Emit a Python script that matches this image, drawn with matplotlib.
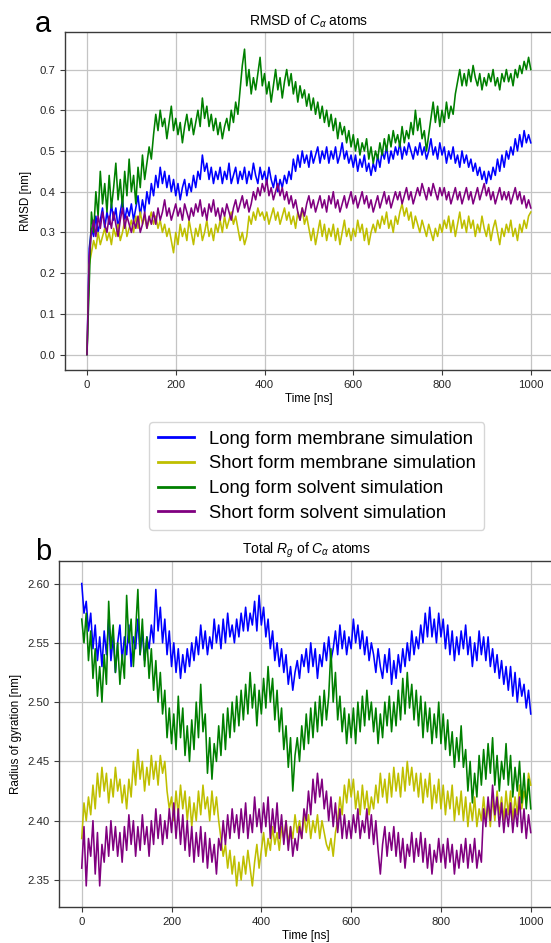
import numpy as np
import matplotlib
matplotlib.use("Agg")
import matplotlib.pyplot as plt

plt.rcParams["font.family"] = ["Liberation Sans", "DejaVu Sans"]
plt.rcParams["mathtext.fontset"] = "custom"
plt.rcParams["mathtext.rm"] = "Liberation Sans"
plt.rcParams["mathtext.it"] = "Liberation Sans:italic"

# Simulation time axis: one sample every 5 ns from 0 to 1000 ns
time_ns = np.arange(0, 1001, 5)

series_labels = [
    "Long form membrane simulation",
    "Short form membrane simulation",
    "Long form solvent simulation",
    "Short form solvent simulation",
]
series_colors = ["#0000ff", "#bfbf00", "#008000", "#800080"]

# ---- C-alpha RMSD [nm] ----
rmsd_long_membrane = [
    0.00, 0.26, 0.31, 0.29, 0.34, 0.30, 0.33, 0.36, 0.31, 0.35,
    0.32, 0.37, 0.33, 0.36, 0.31, 0.35, 0.38, 0.33, 0.36, 0.34,
    0.37, 0.33, 0.36, 0.39, 0.34, 0.38, 0.35, 0.40, 0.37, 0.42,
    0.39, 0.44, 0.41, 0.46, 0.42, 0.45, 0.41, 0.44, 0.40, 0.43,
    0.39, 0.42, 0.38, 0.41, 0.43, 0.39, 0.42, 0.40, 0.44, 0.41,
    0.45, 0.43, 0.49, 0.45, 0.47, 0.43, 0.46, 0.42, 0.45, 0.43,
    0.46, 0.42, 0.45, 0.43, 0.47, 0.42, 0.44, 0.46, 0.42, 0.45,
    0.43, 0.46, 0.42, 0.45, 0.43, 0.47, 0.44, 0.42, 0.46, 0.43,
    0.45, 0.42, 0.46, 0.43, 0.41, 0.44, 0.40, 0.43, 0.41, 0.44,
    0.42, 0.45, 0.43, 0.48, 0.45, 0.49, 0.46, 0.50, 0.47, 0.49,
    0.46, 0.50, 0.47, 0.49, 0.51, 0.47, 0.50, 0.48, 0.51, 0.47,
    0.50, 0.48, 0.51, 0.47, 0.49, 0.52, 0.48, 0.50, 0.47, 0.49,
    0.46, 0.49, 0.45, 0.48, 0.46, 0.49, 0.45, 0.47, 0.44, 0.47,
    0.45, 0.49, 0.46, 0.50, 0.48, 0.51, 0.47, 0.50, 0.48, 0.51,
    0.49, 0.52, 0.48, 0.51, 0.49, 0.52, 0.50, 0.48, 0.51, 0.49,
    0.52, 0.49, 0.51, 0.48, 0.50, 0.53, 0.49, 0.51, 0.48, 0.52,
    0.49, 0.51, 0.47, 0.50, 0.48, 0.51, 0.47, 0.49, 0.46, 0.50,
    0.47, 0.49, 0.46, 0.48, 0.45, 0.47, 0.44, 0.46, 0.43, 0.45,
    0.42, 0.45, 0.43, 0.46, 0.44, 0.48, 0.45, 0.49, 0.46, 0.50,
    0.48, 0.51, 0.49, 0.53, 0.50, 0.54, 0.51, 0.55, 0.52, 0.54,
    0.52,
]
rmsd_short_membrane = [
    0.00, 0.22, 0.25, 0.28, 0.26, 0.30, 0.27, 0.29, 0.31, 0.28,
    0.30, 0.27, 0.31, 0.29, 0.32, 0.28, 0.30, 0.33, 0.29, 0.31,
    0.33, 0.30, 0.34, 0.31, 0.35, 0.32, 0.34, 0.31, 0.33, 0.35,
    0.32, 0.34, 0.31, 0.33, 0.30, 0.32, 0.29, 0.31, 0.28, 0.25,
    0.30, 0.27, 0.32, 0.29, 0.31, 0.28, 0.33, 0.30, 0.27, 0.31,
    0.29, 0.32, 0.28, 0.30, 0.33, 0.29, 0.31, 0.28, 0.32, 0.30,
    0.33, 0.30, 0.34, 0.31, 0.33, 0.35, 0.32, 0.34, 0.31, 0.28,
    0.30, 0.27, 0.29, 0.34, 0.32, 0.35, 0.33, 0.36, 0.34, 0.35,
    0.33, 0.35, 0.32, 0.34, 0.36, 0.33, 0.35, 0.32, 0.34, 0.36,
    0.33, 0.35, 0.32, 0.34, 0.31, 0.35, 0.33, 0.36, 0.32, 0.34,
    0.31, 0.28, 0.31, 0.27, 0.30, 0.33, 0.29, 0.32, 0.28, 0.31,
    0.29, 0.32, 0.28, 0.31, 0.27, 0.30, 0.33, 0.29, 0.31, 0.28,
    0.31, 0.29, 0.33, 0.30, 0.32, 0.28, 0.31, 0.27, 0.30, 0.32,
    0.30, 0.33, 0.31, 0.34, 0.32, 0.35, 0.31, 0.33, 0.30, 0.34,
    0.32, 0.35, 0.37, 0.34, 0.36, 0.33, 0.35, 0.31, 0.34, 0.32,
    0.30, 0.33, 0.31, 0.29, 0.32, 0.30, 0.28, 0.31, 0.29, 0.32,
    0.30, 0.33, 0.31, 0.34, 0.30, 0.33, 0.29, 0.32, 0.35, 0.31,
    0.33, 0.30, 0.34, 0.31, 0.33, 0.29, 0.32, 0.30, 0.34, 0.31,
    0.29, 0.32, 0.28, 0.31, 0.33, 0.30, 0.27, 0.31, 0.29, 0.32,
    0.30, 0.33, 0.29, 0.31, 0.28, 0.32, 0.30, 0.33, 0.31, 0.34,
    0.35,
]
rmsd_long_solvent = [
    0.00, 0.17, 0.35, 0.30, 0.40, 0.34, 0.45, 0.37, 0.42, 0.35,
    0.44, 0.36, 0.41, 0.47, 0.38, 0.43, 0.36, 0.45, 0.39, 0.48,
    0.40, 0.44, 0.37, 0.46, 0.41, 0.49, 0.43, 0.47, 0.51, 0.48,
    0.54, 0.59, 0.55, 0.60, 0.56, 0.58, 0.53, 0.57, 0.61, 0.55,
    0.58, 0.54, 0.57, 0.52, 0.56, 0.59, 0.55, 0.58, 0.54, 0.57,
    0.60, 0.56, 0.63, 0.58, 0.61, 0.56, 0.59, 0.55, 0.58, 0.54,
    0.57, 0.53, 0.56, 0.58, 0.55, 0.60, 0.57, 0.62, 0.59, 0.65,
    0.71, 0.75, 0.66, 0.70, 0.64, 0.68, 0.65, 0.69, 0.73, 0.66,
    0.69, 0.64, 0.67, 0.62, 0.66, 0.70, 0.65, 0.68, 0.63, 0.67,
    0.70, 0.66, 0.69, 0.64, 0.67, 0.62, 0.66, 0.63, 0.65, 0.61,
    0.64, 0.60, 0.63, 0.59, 0.62, 0.58, 0.61, 0.57, 0.60, 0.56,
    0.59, 0.55, 0.58, 0.53, 0.57, 0.54, 0.56, 0.52, 0.55, 0.51,
    0.54, 0.50, 0.53, 0.49, 0.52, 0.50, 0.53, 0.48, 0.51, 0.47,
    0.50, 0.48, 0.52, 0.49, 0.53, 0.50, 0.54, 0.51, 0.55, 0.52,
    0.54, 0.51, 0.56, 0.52, 0.55, 0.53, 0.57, 0.54, 0.60, 0.55,
    0.58, 0.53, 0.55, 0.50, 0.54, 0.58, 0.62, 0.57, 0.61, 0.56,
    0.60, 0.57, 0.62, 0.58, 0.61, 0.59, 0.64, 0.67, 0.70, 0.66,
    0.69, 0.66, 0.70, 0.67, 0.71, 0.68, 0.66, 0.69, 0.65, 0.68,
    0.66, 0.69, 0.67, 0.70, 0.66, 0.68, 0.65, 0.69, 0.67, 0.70,
    0.67, 0.69, 0.66, 0.70, 0.68, 0.71, 0.69, 0.72, 0.70, 0.73,
    0.70,
]
rmsd_short_solvent = [
    0.00, 0.24, 0.30, 0.33, 0.29, 0.34, 0.31, 0.35, 0.32, 0.30,
    0.34, 0.31, 0.35, 0.32, 0.29, 0.33, 0.36, 0.31, 0.34, 0.32,
    0.30, 0.33, 0.31, 0.34, 0.30, 0.32, 0.35, 0.31, 0.34, 0.32,
    0.35, 0.32, 0.36, 0.33, 0.35, 0.38, 0.34, 0.36, 0.33, 0.35,
    0.37, 0.34, 0.36, 0.33, 0.37, 0.35, 0.33, 0.36, 0.34, 0.37,
    0.35, 0.38, 0.34, 0.36, 0.33, 0.37, 0.35, 0.38, 0.34, 0.36,
    0.33, 0.36, 0.34, 0.37, 0.35, 0.33, 0.36, 0.38, 0.35, 0.37,
    0.39, 0.36, 0.38, 0.35, 0.37, 0.40, 0.38, 0.41, 0.39, 0.42,
    0.40, 0.43, 0.39, 0.41, 0.38, 0.40, 0.42, 0.39, 0.41, 0.38,
    0.40, 0.37, 0.39, 0.36, 0.38, 0.35, 0.33, 0.36, 0.34, 0.37,
    0.39, 0.36, 0.38, 0.35, 0.37, 0.39, 0.36, 0.38, 0.35, 0.39,
    0.37, 0.40, 0.36, 0.38, 0.35, 0.37, 0.39, 0.36, 0.38, 0.40,
    0.37, 0.39, 0.36, 0.38, 0.40, 0.37, 0.39, 0.36, 0.38, 0.35,
    0.37, 0.39, 0.36, 0.38, 0.40, 0.37, 0.39, 0.36, 0.38, 0.40,
    0.38, 0.40, 0.37, 0.39, 0.41, 0.38, 0.40, 0.37, 0.39, 0.41,
    0.39, 0.42, 0.40, 0.38, 0.41, 0.39, 0.42, 0.40, 0.38, 0.41,
    0.39, 0.41, 0.38, 0.40, 0.37, 0.39, 0.41, 0.38, 0.40, 0.37,
    0.39, 0.41, 0.38, 0.40, 0.37, 0.39, 0.41, 0.38, 0.40, 0.42,
    0.39, 0.41, 0.38, 0.40, 0.37, 0.39, 0.41, 0.38, 0.40, 0.38,
    0.40, 0.37, 0.39, 0.41, 0.38, 0.40, 0.37, 0.39, 0.36, 0.38,
    0.36,
]

# ---- C-alpha radius of gyration [nm] ----
rg_long_membrane = [
    2.600, 2.575, 2.585, 2.560, 2.575, 2.545, 2.565, 2.535, 2.555, 2.530,
    2.560, 2.540, 2.570, 2.535, 2.555, 2.525, 2.550, 2.565, 2.535, 2.555,
    2.540, 2.565, 2.530, 2.555, 2.545, 2.570, 2.540, 2.560, 2.535, 2.555,
    2.545, 2.565, 2.550, 2.595, 2.560, 2.580, 2.550, 2.570, 2.540, 2.560,
    2.530, 2.550, 2.525, 2.545, 2.520, 2.540, 2.525, 2.545, 2.530, 2.550,
    2.535, 2.555, 2.540, 2.565, 2.545, 2.560, 2.540, 2.555, 2.545, 2.570,
    2.550, 2.565, 2.545, 2.570, 2.550, 2.575, 2.555, 2.565, 2.550, 2.570,
    2.555, 2.575, 2.560, 2.580, 2.560, 2.575, 2.565, 2.585, 2.560, 2.590,
    2.565, 2.580, 2.555, 2.570, 2.545, 2.560, 2.535, 2.550, 2.530, 2.545,
    2.525, 2.540, 2.515, 2.530, 2.510, 2.525, 2.535, 2.520, 2.540, 2.530,
    2.545, 2.525, 2.550, 2.530, 2.545, 2.520, 2.540, 2.530, 2.550, 2.535,
    2.555, 2.535, 2.545, 2.560, 2.540, 2.565, 2.545, 2.560, 2.540, 2.555,
    2.545, 2.570, 2.550, 2.565, 2.545, 2.560, 2.540, 2.555, 2.535, 2.550,
    2.540, 2.525, 2.545, 2.530, 2.520, 2.540, 2.525, 2.545, 2.515, 2.535,
    2.520, 2.540, 2.525, 2.545, 2.530, 2.550, 2.535, 2.560, 2.540, 2.555,
    2.545, 2.565, 2.550, 2.575, 2.555, 2.580, 2.555, 2.570, 2.550, 2.575,
    2.555, 2.570, 2.545, 2.565, 2.540, 2.560, 2.535, 2.555, 2.540, 2.560,
    2.545, 2.565, 2.540, 2.555, 2.530, 2.550, 2.535, 2.560, 2.540, 2.555,
    2.535, 2.555, 2.530, 2.545, 2.525, 2.540, 2.520, 2.535, 2.515, 2.530,
    2.510, 2.530, 2.505, 2.525, 2.500, 2.520, 2.505, 2.515, 2.495, 2.510,
    2.490,
]
rg_short_membrane = [
    2.385, 2.415, 2.400, 2.420, 2.405, 2.430, 2.410, 2.440, 2.420, 2.445,
    2.425, 2.440, 2.415, 2.435, 2.420, 2.445, 2.425, 2.435, 2.415, 2.430,
    2.410, 2.435, 2.420, 2.450, 2.430, 2.460, 2.435, 2.450, 2.425, 2.445,
    2.430, 2.455, 2.435, 2.450, 2.430, 2.455, 2.440, 2.450, 2.425, 2.410,
    2.420, 2.400, 2.425, 2.405, 2.430, 2.410, 2.425, 2.400, 2.420, 2.395,
    2.415, 2.400, 2.425, 2.405, 2.430, 2.410, 2.420, 2.400, 2.425, 2.405,
    2.420, 2.400, 2.385, 2.370, 2.380, 2.360, 2.375, 2.355, 2.370, 2.345,
    2.365, 2.350, 2.370, 2.355, 2.375, 2.360, 2.345, 2.365, 2.380, 2.360,
    2.375, 2.390, 2.370, 2.385, 2.375, 2.395, 2.380, 2.390, 2.375, 2.395,
    2.385, 2.400, 2.380, 2.395, 2.385, 2.405, 2.390, 2.400, 2.385, 2.405,
    2.390, 2.405, 2.385, 2.400, 2.390, 2.405, 2.385, 2.400, 2.390, 2.380,
    2.375, 2.385, 2.370, 2.390, 2.400, 2.420, 2.405, 2.430, 2.415, 2.435,
    2.420, 2.435, 2.410, 2.425, 2.405, 2.430, 2.410, 2.425, 2.405, 2.420,
    2.410, 2.430, 2.415, 2.440, 2.420, 2.435, 2.415, 2.440, 2.420, 2.445,
    2.425, 2.440, 2.420, 2.445, 2.425, 2.450, 2.430, 2.445, 2.425, 2.440,
    2.420, 2.440, 2.415, 2.435, 2.420, 2.440, 2.410, 2.430, 2.415, 2.435,
    2.410, 2.430, 2.405, 2.425, 2.410, 2.430, 2.400, 2.420, 2.405, 2.425,
    2.400, 2.420, 2.395, 2.415, 2.400, 2.420, 2.395, 2.410, 2.400, 2.420,
    2.400, 2.415, 2.395, 2.420, 2.400, 2.425, 2.405, 2.420, 2.400, 2.425,
    2.405, 2.425, 2.400, 2.420, 2.405, 2.430, 2.410, 2.425, 2.415, 2.440,
    2.430,
]
rg_long_solvent = [
    2.570, 2.550, 2.575, 2.535, 2.560, 2.520, 2.545, 2.505, 2.530, 2.500,
    2.540, 2.515, 2.585, 2.545, 2.565, 2.525, 2.550, 2.515, 2.540, 2.520,
    2.590, 2.550, 2.570, 2.530, 2.560, 2.595, 2.540, 2.570, 2.530, 2.555,
    2.520, 2.545, 2.510, 2.535, 2.500, 2.525, 2.490, 2.510, 2.470, 2.495,
    2.465, 2.490, 2.460, 2.505, 2.470, 2.495, 2.455, 2.480, 2.450, 2.485,
    2.460, 2.500, 2.470, 2.515, 2.475, 2.490, 2.440, 2.470, 2.435, 2.465,
    2.450, 2.480, 2.455, 2.490, 2.460, 2.495, 2.470, 2.500, 2.475, 2.505,
    2.480, 2.510, 2.485, 2.515, 2.490, 2.525, 2.495, 2.515, 2.480, 2.510,
    2.490, 2.520, 2.495, 2.530, 2.500, 2.520, 2.485, 2.510, 2.475, 2.495,
    2.460, 2.480, 2.445, 2.470, 2.425, 2.455, 2.470, 2.450, 2.480, 2.460,
    2.490, 2.465, 2.495, 2.470, 2.500, 2.475, 2.505, 2.480, 2.510, 2.485,
    2.505, 2.545, 2.500, 2.525, 2.485, 2.505, 2.475, 2.495, 2.465, 2.490,
    2.470, 2.495, 2.465, 2.500, 2.475, 2.505, 2.480, 2.510, 2.485, 2.500,
    2.475, 2.495, 2.465, 2.490, 2.470, 2.500, 2.480, 2.505, 2.475, 2.500,
    2.480, 2.510, 2.485, 2.520, 2.490, 2.525, 2.495, 2.515, 2.485, 2.510,
    2.480, 2.505, 2.470, 2.500, 2.475, 2.495, 2.465, 2.490, 2.470, 2.500,
    2.465, 2.490, 2.460, 2.485, 2.455, 2.475, 2.445, 2.470, 2.450, 2.480,
    2.445, 2.460, 2.425, 2.450, 2.415, 2.440, 2.420, 2.455, 2.430, 2.460,
    2.435, 2.465, 2.440, 2.470, 2.430, 2.455, 2.425, 2.450, 2.435, 2.465,
    2.430, 2.455, 2.420, 2.445, 2.425, 2.450, 2.415, 2.440, 2.410, 2.435,
    2.410,
]
rg_short_solvent = [
    2.360, 2.395, 2.345, 2.385, 2.370, 2.400, 2.355, 2.390, 2.345, 2.380,
    2.365, 2.395, 2.370, 2.400, 2.375, 2.395, 2.370, 2.390, 2.365, 2.395,
    2.375, 2.405, 2.380, 2.400, 2.370, 2.395, 2.375, 2.405, 2.380, 2.395,
    2.370, 2.400, 2.380, 2.410, 2.385, 2.405, 2.380, 2.400, 2.385, 2.410,
    2.390, 2.415, 2.385, 2.410, 2.380, 2.405, 2.375, 2.400, 2.370, 2.395,
    2.365, 2.390, 2.370, 2.395, 2.365, 2.390, 2.360, 2.385, 2.365, 2.380,
    2.355, 2.385, 2.375, 2.400, 2.380, 2.405, 2.385, 2.410, 2.390, 2.405,
    2.385, 2.410, 2.390, 2.415, 2.385, 2.405, 2.390, 2.420, 2.395, 2.410,
    2.390, 2.415, 2.395, 2.420, 2.385, 2.410, 2.390, 2.415, 2.385, 2.405,
    2.380, 2.400, 2.375, 2.395, 2.370, 2.385, 2.375, 2.395, 2.385, 2.410,
    2.400, 2.425, 2.405, 2.435, 2.415, 2.440, 2.420, 2.435, 2.410, 2.425,
    2.400, 2.420, 2.395, 2.415, 2.390, 2.410, 2.385, 2.405, 2.385, 2.400,
    2.385, 2.405, 2.390, 2.410, 2.385, 2.400, 2.390, 2.410, 2.385, 2.405,
    2.380, 2.400, 2.375, 2.355, 2.380, 2.395, 2.370, 2.390, 2.375, 2.395,
    2.370, 2.390, 2.365, 2.385, 2.360, 2.380, 2.370, 2.390, 2.365, 2.385,
    2.370, 2.390, 2.365, 2.385, 2.360, 2.380, 2.355, 2.375, 2.365, 2.385,
    2.365, 2.380, 2.360, 2.385, 2.365, 2.380, 2.355, 2.375, 2.360, 2.380,
    2.365, 2.385, 2.360, 2.380, 2.365, 2.385, 2.360, 2.375, 2.365, 2.410,
    2.395, 2.420, 2.400, 2.430, 2.405, 2.420, 2.395, 2.415, 2.390, 2.410,
    2.395, 2.415, 2.390, 2.410, 2.395, 2.420, 2.390, 2.410, 2.385, 2.405,
    2.390,
]

rmsd_series = [rmsd_long_membrane, rmsd_short_membrane,
               rmsd_long_solvent, rmsd_short_solvent]
rg_series = [rg_long_membrane, rg_short_membrane,
             rg_long_solvent, rg_short_solvent]

time_ticks = [0, 200, 400, 600, 800, 1000]
rmsd_ticks = [0.0, 0.1, 0.2, 0.3, 0.4, 0.5, 0.6, 0.7]
rg_ticks = [2.35, 2.40, 2.45, 2.50, 2.55, 2.60]

fig = plt.figure(figsize=(5.51, 9.43), dpi=100)

tick_fs = 8.2
label_fs = 8.4
title_fs = 10.0
line_w = 1.15
spine_color = "#3a3a3a"


def style_axes(ax):
    ax.grid(True, color="#c4c4c4", linewidth=0.9)
    ax.set_axisbelow(True)
    for side in ax.spines.values():
        side.set_color(spine_color)
        side.set_linewidth(1.0)
    ax.tick_params(labelsize=tick_fs, colors=spine_color,
                   labelcolor="#262626", length=3.5, width=0.8)
    ax.set_xlim(-50, 1050)
    ax.set_xticks(time_ticks)


# Panel a: RMSD
ax_a = fig.add_axes([0.1176, 0.6076, 0.886, 0.3584])
lines = []
for values, color, label in zip(rmsd_series, series_colors, series_labels):
    (ln,) = ax_a.plot(time_ns, values, color=color, linewidth=line_w,
                      label=label)
    lines.append(ln)
style_axes(ax_a)
ax_a.set_ylim(-0.038, 0.792)
ax_a.set_yticks(rmsd_ticks)
ax_a.set_yticklabels([f"{v:.1f}" for v in rmsd_ticks])
ax_a.set_title(r"RMSD of $C_\alpha$ atoms", fontsize=title_fs, pad=5)
ax_a.set_xlabel("Time [ns]", fontsize=label_fs, labelpad=2)
ax_a.set_ylabel("RMSD [nm]", fontsize=label_fs, labelpad=5)

# Panel b: radius of gyration
ax_b = fig.add_axes([0.1076, 0.0379, 0.8964, 0.3672])
for values, color, label in zip(rg_series, series_colors, series_labels):
    ax_b.plot(time_ns, values, color=color, linewidth=line_w, label=label)
style_axes(ax_b)
ax_b.set_ylim(2.327, 2.619)
ax_b.set_yticks(rg_ticks)
ax_b.set_yticklabels([f"{v:.2f}" for v in rg_ticks])
ax_b.set_title(r"Total $R_g$ of $C_\alpha$ atoms", fontsize=title_fs, pad=5)
ax_b.set_xlabel("Time [ns]", fontsize=label_fs, labelpad=2)
ax_b.set_ylabel("Radius of gyration [nm]", fontsize=label_fs, labelpad=4)

# Shared legend between the panels
leg = fig.legend(handles=lines, labels=series_labels, loc="center",
                 bbox_to_anchor=(0.575, 0.495), fontsize=13.2,
                 frameon=True, fancybox=True, handlelength=2.0,
                 labelspacing=0.42, borderpad=0.45)
leg.get_frame().set_edgecolor("#cccccc")
leg.get_frame().set_linewidth(1.0)
for ln in leg.get_lines():
    ln.set_linewidth(2.0)

# Panel letters
fig.text(0.0635, 1 - 32 / 943, "a", fontsize=21, va="baseline", ha="left")
fig.text(0.0635, 1 - 560 / 943, "b", fontsize=21, va="baseline", ha="left")

fig.savefig("out.png", dpi=100)
